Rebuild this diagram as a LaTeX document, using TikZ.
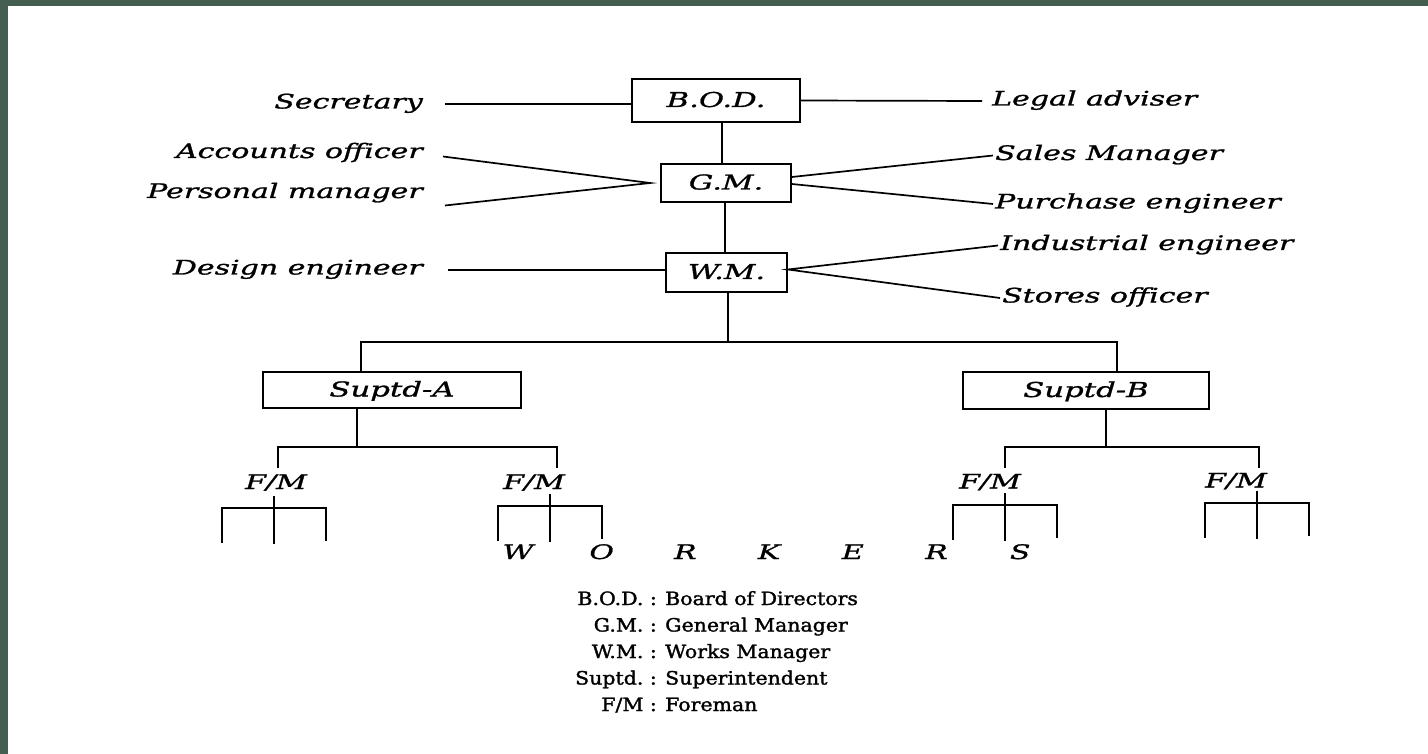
\documentclass[tikz,border=0pt]{standalone}
\usepackage{fontspec}
\usepackage{tikz}
\usetikzlibrary{positioning, calc}
\newfontfamily\lblfont{DejaVu Serif}[FakeStretch=1.5, FakeBold=1.2]
\newfontfamily\keyfont{DejaVu Serif}[FakeStretch=1.12, FakeBold=1.6]
\definecolor{frame}{RGB}{68,95,80}

\begin{document}
\begin{tikzpicture}[
    x=1pt, y=-1pt,
    box/.style={rectangle, draw=black, line width=1.7pt, inner sep=0pt, text height=14pt, text depth=1pt, font=\lblfont\itshape\fontsize{20.5}{22}\selectfont},
    lbl/.style={inner sep=2pt, text height=14pt, text depth=5pt, font=\lblfont\itshape\fontsize{20}{22}\selectfont},
    key/.style={inner sep=0pt, font=\keyfont\fontsize{18.3}{20}\selectfont},
    line/.style={draw=black, line width=1.7pt}
]
    \useasboundingbox (0,0) rectangle (1428,754);
    \fill[white] (0,0) rectangle (1428,754);
    \fill[frame] (0,0) rectangle (1428,6);
    \fill[frame] (0,0) rectangle (8,754);

    \node[box, minimum width=168pt, minimum height=43pt] (bod) at (716,100.5) {B.O.D.};
    \node[box, minimum width=130pt, minimum height=38pt] (gm) at (726,183) {G.M.};
    \node[box, minimum width=121pt, minimum height=39pt] (wm) at (726.5,272.5) {W.M.};
    \node[box, minimum width=258pt, minimum height=36pt] (supa) at (392,390) {Suptd-A};
    \node[box, minimum width=246pt, minimum height=37pt] (supb) at (1086,390.5) {Suptd-B};

    \node[lbl, anchor=east] (sec) at (425,104) {Secretary};
    \node[lbl, anchor=east] (acc) at (425,153.5) {Accounts officer};
    \node[lbl, anchor=east] (pers) at (425,193.5) {Personal manager};
    \node[lbl, anchor=east] (des) at (425,270) {Design engineer};
    \node[lbl, anchor=west] (legal) at (990,101) {Legal adviser};
    \node[lbl, anchor=west] (sales) at (993,155.5) {Sales Manager};
    \node[lbl, anchor=west] (purch) at (993,204) {Purchase engineer};
    \node[lbl, anchor=west] (indus) at (998,245.5) {Industrial engineer};
    \node[lbl, anchor=west] (stores) at (1000,298) {Stores officer};

    \node[lbl] (fm1) at (276,484.5) {F/M};
    \node[lbl] (fm2) at (534,484.5) {F/M};
    \node[lbl] (fm3) at (990,484) {F/M};
    \node[lbl] (fm4) at (1236,483) {F/M};

    \foreach \ch [count=\i from 0] in {W,O,R,K,E,R,S}
        \node[lbl] (wk\i) at (518+83.7*\i, 554.5) {\ch};

    % Legend
    \foreach \ab/\full [count=\i from 0] in {B.O.D./Board of Directors, G.M./General Manager, W.M./Works Manager, Suptd./Superintendent, {F/M}/Foreman} {
        \node[key, anchor=base east] (ab\i) at (657, 605+26.5*\i) {\ab\ :};
        \node[key, anchor=base west] (full\i) at (665, 605+26.5*\i) {\full};
    }

    % Connectors
    \coordinate (v1) at (722,0);
    \coordinate (v2) at (725,0);
    \coordinate (bus) at (728,342);
    \coordinate (ta) at (361,0);
    \coordinate (tb) at (1117,0);
    \coordinate (gmin) at ([xshift=-10pt]gm.west);
    \draw[line] ([xshift=20pt]sec.east) -- (sec.east -| bod.west);
    \draw[line] (bod.east) -- ([xshift=-8pt]legal.west);
    \draw[line] ([xshift=18pt,yshift=-3pt]acc.east) -- (gmin) -- ([xshift=20pt,yshift=-12pt]pers.east);
    \draw[line] ([yshift=6pt]gm.east) -- (sales.west);
    \draw[line] ([yshift=-1pt]gm.east) -- (purch.west);
    \draw[line] ([xshift=23pt]des.east) -- (des.east -| wm.west);
    \draw[line] (indus.west) -- ([yshift=3pt]wm.east) -- (stores.west);
    \draw[line] (bod.south -| v1) -- (gm.north -| v1);
    \draw[line] (gm.south -| v2) -- (wm.north -| v2);
    \draw[line] (wm.south -| bus) -- (bus);
    \draw[line] (supa.north -| ta) |- (bus) -| (supb.north -| tb);

    \coordinate (ja) at (357,447);
    \coordinate (jb) at (1106,447);
    \coordinate (d1) at (278,447);
    \coordinate (d2) at (557,447);
    \coordinate (d3) at (1005,447);
    \coordinate (d4) at (1259,447);
    \draw[line] (supa.south -| ja) -- (ja);
    \draw[line] (supb.south -| jb) -- (jb);
    \draw[line] ([yshift=-21pt]d1) -- (d1) -- (d2) -- ([yshift=-21pt]d2);
    \draw[line] ([yshift=-21pt]d3) -- (d3) -- (d4) -- ([yshift=-21pt]d4);

    \foreach \gx/\gy in {274/508, 550/506, 1005/505, 1257/503} {
        \draw[line] (\gx-52,\gy+35) |- (\gx+52,\gy) -- (\gx+52,\gy+33);
        \draw[line] (\gx,\gy-12) -- (\gx,\gy+36);
    }
\end{tikzpicture}
\end{document}
